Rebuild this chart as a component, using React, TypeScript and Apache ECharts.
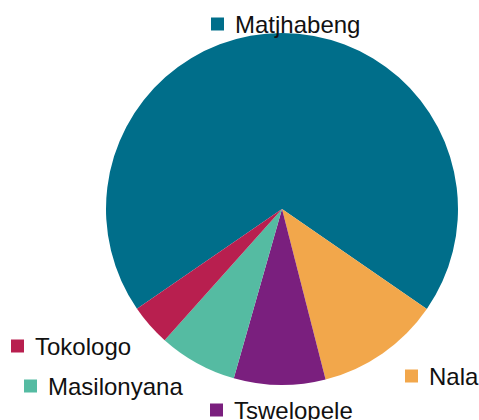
import React, { useEffect, useRef } from "react";
import * as echarts from "echarts";

const categories = ["Matjhabeng", "Nala", "Tswelopele", "Masilonyana", "Tokologo"];
const values = [69.2, 11.4, 8.4, 7.2, 3.8];
const colors = ["#006E8A", "#F2A74B", "#7A1F7E", "#55BBA2", "#B81F4F"];
// label anchor (left edge of marker, vertical middle)
const labelPos: [number, number][] = [
  [211, 24],
  [405, 376],
  [210, 410],
  [24, 386],
  [11, 346],
];

export default function App() {
  const ref = useRef<HTMLDivElement>(null);
  useEffect(() => {
    if (!ref.current) return;
    const chart = echarts.init(ref.current, null, { renderer: "svg" });
    chart.setOption({
      animation: false,
      backgroundColor: "#ffffff",
      series: [
        {
          type: "pie",
          center: [282, 209],
          radius: [0, 176],
          startAngle: 214.5,
          clockwise: true,
          silent: true,
          avoidLabelOverlap: false,
          labelLine: { show: false },
          label: {
            show: true,
            position: "outside",
            overflow: "none",
            formatter: "{sq|}{t|{b}}",
            fontFamily: "Liberation Sans, Arial, sans-serif",
          },
          labelLayout: (params: any) => {
            const p = labelPos[params.dataIndex];
            return { x: p[0], y: p[1], align: "left", verticalAlign: "middle" };
          },
          data: categories.map((name, i) => ({
            name,
            value: values[i],
            itemStyle: { color: colors[i], borderWidth: 0 },
            label: {
              overflow: "none",
              rich: {
                sq: { width: 13, height: 13, backgroundColor: colors[i] },
                t: {
                  fontSize: 24,
                  color: "#111111",
                  padding: [0, 0, 0, 11],
                  fontFamily: "Liberation Sans, Arial, sans-serif",
                },
              },
            },
          })),
        },
      ],
    });
    return () => chart.dispose();
  }, []);
  return <div ref={ref} style={{ width: 479, height: 420, position: "absolute", left: 0, top: 0 }} />;
}
